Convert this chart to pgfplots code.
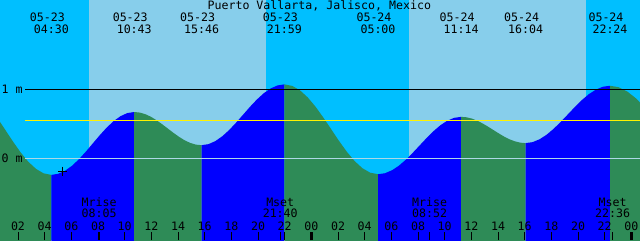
\documentclass[border=0pt]{standalone}
\usepackage{pgfplots}
\pgfplotsset{compat=1.18}
\usepackage{fontspec}
\setmainfont{DejaVu Sans Mono}
\definecolor{night}{HTML}{00BFFF}
\definecolor{day}{HTML}{87CEEB}
\definecolor{fall}{HTML}{2E8B57}
\definecolor{rise}{HTML}{0000FF}
\definecolor{datum}{HTML}{ADD8E6}
\newcommand{\tf}{\fontsize{11.6pt}{13pt}\selectfont}
\begin{document}
\begin{tikzpicture}
\begin{axis}[
  width=640pt, height=240pt, scale only axis,
  xmin=0.65, xmax=48.65, ymin=-1.182, ymax=2.291,
  enlargelimits=false,
  axis line style={draw=none},
  axis background/.style={fill=night},
  axis on top=true,
  ytick=\empty,
  xtick pos=bottom,
  tick align=inside,
  xtick={2,4,...,22,26,28,...,46},
  xticklabels={02,04,06,08,10,12,14,16,18,20,22,02,04,06,08,10,12,14,16,18,20,22},
  minor xtick={8.083,21.667,32.867,46.6},
  extra x ticks={24,48},
  extra x tick labels={00,00},
  extra x tick style={major tick style={line width=3pt, black}},
  major tick length=8pt, minor tick length=8pt,
  major tick style={black, line width=0.8pt},
  minor tick style={black, line width=0.8pt},
  xticklabel style={anchor=base, yshift=10pt, font=\tf, inner sep=0pt},
]
% daylight bands
\addplot[fill=day, draw=none] coordinates {(7.325,-1.3) (7.325,2.4) (20.6,2.4) (20.6,-1.3)};
\addplot[fill=day, draw=none] coordinates {(31.325,-1.3) (31.325,2.4) (44.6,2.4) (44.6,-1.3)};
% tide: falling (green) and rising (blue)
\addplot[fill=fall, draw=none] coordinates {(-2.4,-1.3) (-2.4,1.06) (-1.825,1.038) (-1.25,0.973) (-0.675,0.870) (-0.1,0.735) (0.475,0.578) (1.05,0.41) (1.625,0.242) (2.2,0.085) (2.775,-0.050) (3.35,-0.153) (3.925,-0.218) (4.5,-0.24) (4.5,-1.3)};
\addplot[fill=rise, draw=none] coordinates {(4.5,-1.3) (4.5,-0.24) (5.018,-0.224) (5.536,-0.179) (6.054,-0.107) (6.572,-0.013) (7.090,0.097) (7.608,0.215) (8.127,0.333) (8.645,0.443) (9.163,0.537) (9.681,0.609) (10.199,0.655) (10.717,0.67) (10.717,-1.3)};
\addplot[fill=fall, draw=none] coordinates {(10.717,-1.3) (10.717,0.67) (11.138,0.662) (11.559,0.638) (11.979,0.600) (12.400,0.550) (12.821,0.492) (13.242,0.430) (13.663,0.368) (14.084,0.310) (14.504,0.260) (14.925,0.222) (15.346,0.198) (15.767,0.19) (15.767,-1.3)};
\addplot[fill=rise, draw=none] coordinates {(15.767,-1.3) (15.767,0.19) (16.285,0.205) (16.803,0.249) (17.321,0.319) (17.839,0.410) (18.357,0.516) (18.875,0.630) (19.393,0.744) (19.911,0.850) (20.429,0.941) (20.947,1.011) (21.465,1.055) (21.983,1.07) (21.983,-1.3)};
\addplot[fill=fall, draw=none] coordinates {(21.983,-1.3) (21.983,1.07) (22.568,1.048) (23.153,0.983) (23.737,0.880) (24.322,0.745) (24.907,0.588) (25.492,0.420) (26.076,0.252) (26.661,0.095) (27.246,-0.040) (27.830,-0.143) (28.415,-0.208) (29.0,-0.23) (29.0,-1.3)};
\addplot[fill=rise, draw=none] coordinates {(29.0,-1.3) (29.0,-0.23) (29.519,-0.216) (30.039,-0.174) (30.558,-0.108) (31.078,-0.022) (31.597,0.078) (32.117,0.185) (32.636,0.292) (33.155,0.392) (33.675,0.478) (34.194,0.544) (34.714,0.586) (35.233,0.60) (35.233,-1.3)};
\addplot[fill=fall, draw=none] coordinates {(35.233,-1.3) (35.233,0.60) (35.636,0.594) (36.039,0.575) (36.441,0.544) (36.844,0.505) (37.247,0.459) (37.650,0.410) (38.053,0.361) (38.456,0.315) (38.858,0.276) (39.261,0.246) (39.664,0.227) (40.067,0.22) (40.067,-1.3)};
\addplot[fill=rise, draw=none] coordinates {(40.067,-1.3) (40.067,0.22) (40.595,0.234) (41.123,0.276) (41.650,0.342) (42.178,0.428) (42.706,0.528) (43.234,0.635) (43.761,0.742) (44.289,0.843) (44.817,0.929) (45.345,0.994) (45.872,1.036) (46.4,1.05) (46.4,-1.3)};
\addplot[fill=fall, draw=none] coordinates {(46.4,-1.3) (46.4,1.05) (47.05,1.029) (47.7,0.966) (48.35,0.867) (49.0,0.738) (49.0,-1.3)};
% reference lines
\addplot[datum, line width=1pt] coordinates {(2.525,0) (48.65,0)};
\addplot[yellow, line width=1.5pt] coordinates {(2.525,0.55) (48.65,0.55)};
\addplot[black, line width=1pt] coordinates {(2.525,1) (48.65,1)};
% current-time mark
\addplot[only marks, mark=+, mark size=4.5pt, black, line width=0.8pt] coordinates {(5.32,-0.185)};
% level labels
\node[font=\tf, anchor=base] at (axis cs:1.565,0.941) {1 m};
\node[font=\tf, anchor=base] at (axis cs:1.565,-0.064) {0 m};
% title
\node[font=\tf, anchor=base] at (axis cs:24.6,2.156) {Puerto Vallarta, Jalisco, Mexico};
% tide event labels
\node[font=\tf, anchor=base] at (axis cs:4.2,1.977) {05-23};
\node[font=\tf, anchor=base] at (axis cs:4.5,1.799) {04:30};
\node[font=\tf, anchor=base] at (axis cs:10.417,1.977) {05-23};
\node[font=\tf, anchor=base] at (axis cs:10.717,1.799) {10:43};
\node[font=\tf, anchor=base] at (axis cs:15.467,1.977) {05-23};
\node[font=\tf, anchor=base] at (axis cs:15.767,1.799) {15:46};
\node[font=\tf, anchor=base] at (axis cs:21.683,1.977) {05-23};
\node[font=\tf, anchor=base] at (axis cs:21.983,1.799) {21:59};
\node[font=\tf, anchor=base] at (axis cs:28.7,1.977) {05-24};
\node[font=\tf, anchor=base] at (axis cs:29.0,1.799) {05:00};
\node[font=\tf, anchor=base] at (axis cs:34.933,1.977) {05-24};
\node[font=\tf, anchor=base] at (axis cs:35.233,1.799) {11:14};
\node[font=\tf, anchor=base] at (axis cs:39.767,1.977) {05-24};
\node[font=\tf, anchor=base] at (axis cs:40.067,1.799) {16:04};
\node[font=\tf, anchor=base] at (axis cs:46.1,1.977) {05-24};
\node[font=\tf, anchor=base] at (axis cs:46.4,1.799) {22:24};
% moon labels
\node[font=\tf, anchor=base] at (axis cs:8.083,-0.690) {Mrise};
\node[font=\tf, anchor=base] at (axis cs:8.083,-0.860) {08:05};
\node[font=\tf, anchor=base] at (axis cs:21.667,-0.690) {Mset};
\node[font=\tf, anchor=base] at (axis cs:21.667,-0.860) {21:40};
\node[font=\tf, anchor=base] at (axis cs:32.867,-0.690) {Mrise};
\node[font=\tf, anchor=base] at (axis cs:32.867,-0.860) {08:52};
\node[font=\tf, anchor=base] at (axis cs:46.6,-0.690) {Mset};
\node[font=\tf, anchor=base] at (axis cs:46.6,-0.860) {22:36};
\end{axis}
\end{tikzpicture}
\end{document}
